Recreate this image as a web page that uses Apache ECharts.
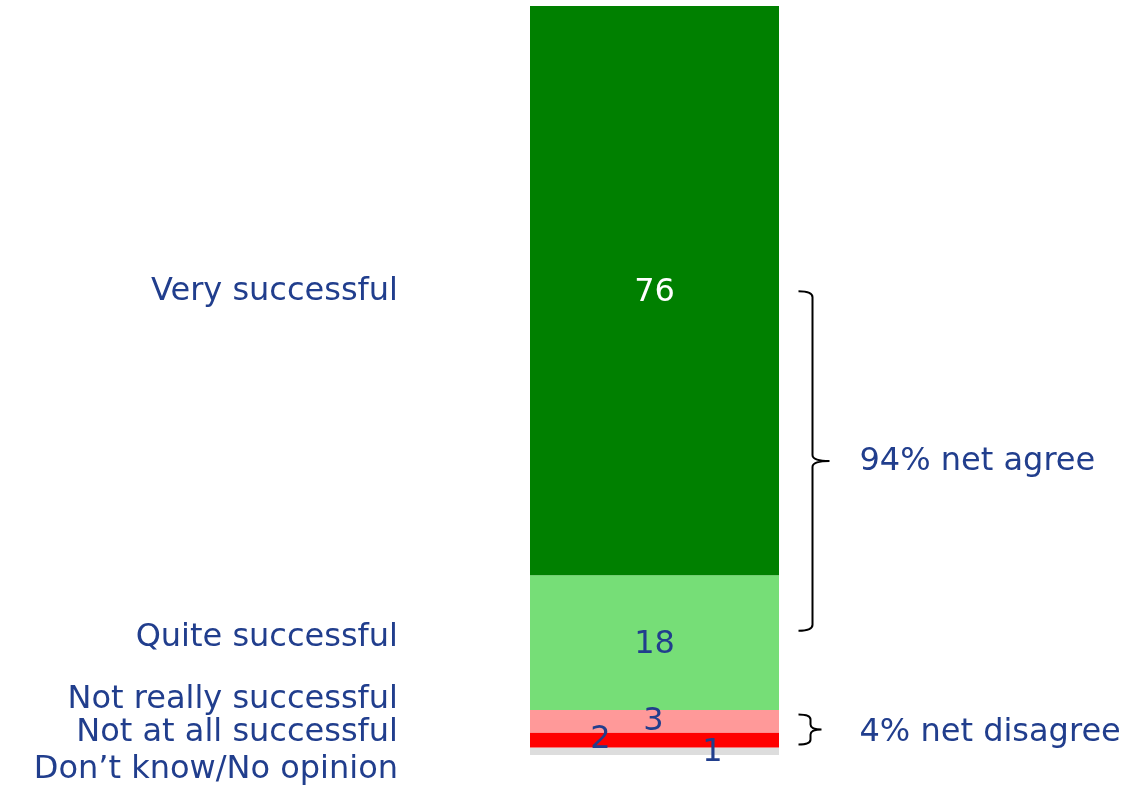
<!DOCTYPE html>
<html>
<head>
<meta charset="utf-8">
<script src="https://cdn.jsdelivr.net/npm/echarts@6/dist/echarts.min.js"></script>
<style>
  html, body { margin: 0; padding: 0; background: #fff; }
  #chart { width: 1121px; height: 789px; }
</style>
</head>
<body>
<div id="chart"></div>
<script>
// answers, top of the bar first
const categories = ['Very successful', 'Quite successful', 'Not really successful', 'Not at all successful', 'Don’t know/No opinion'];
const values = [76, 18, 3, 2, 1];
const valueLabels = ['76', '18', '3', '2', '1'];
// brackets on the right: [from value, to value] on the 0-100 axis, and their text
const bracketRanges = [[61.9, 16.6], [5.4, 1.4]];
const bracketTexts = ['94% net agree', '4% net disagree'];

const colors = ['#008000', '#76DE77', '#FF9999', '#FF0000', '#DDDDDD'];
const valueColors = ['#ffffff', '#213E8D', '#213E8D', '#213E8D', '#213E8D'];
const valueOffsets = [[0, 2], [0, 2], [-1, 0], [-54, 0], [58, 1]];
const nameOffsets = [1, -5, -22, -7, 18];
const BLUE = '#213E8D';
const FONT = 'DejaVu Sans';
const SIZE = 32;

const chart = echarts.init(document.getElementById('chart'));

const series = [];
// stack from the bottom up
for (let i = values.length - 1; i >= 0; i--) {
  series.push({
    type: 'bar',
    name: categories[i],
    stack: 'vals',
    barWidth: 249,
    barGap: '-100%',
    silent: true,
    data: [values[i]],
    itemStyle: { color: colors[i] },
    label: {
      show: true,
      position: 'inside',
      formatter: valueLabels[i],
      color: valueColors[i],
      fontFamily: FONT,
      fontSize: SIZE,
      offset: valueOffsets[i],
    },
  });
}
// transparent copy, only carries the names on the left
for (let i = values.length - 1; i >= 0; i--) {
  series.push({
    type: 'bar',
    name: categories[i] + ' label',
    stack: 'names',
    barWidth: 249,
    barGap: '-100%',
    silent: true,
    data: [values[i]],
    itemStyle: { color: 'transparent' },
    label: {
      show: true,
      position: 'left',
      distance: 132,
      formatter: categories[i],
      color: BLUE,
      fontFamily: FONT,
      fontSize: SIZE,
      offset: [0, nameOffsets[i]],
    },
  });
}

series.push({
  type: 'custom',
  silent: true,
  data: bracketRanges.map((r, i) => [0, r[0], r[1], i]),
  renderItem(params, api) {
    const top = api.coord([0, api.value(1)]);
    const bot = api.coord([0, api.value(2)]);
    const idx = api.value(3);
    const big = idx === 0;
    const hookX = top[0] + 144;
    const stemX = top[0] + (big ? 158 : 156);
    const tipX = top[0] + (big ? 175 : 167);
    const y0 = top[1];
    const y1 = bot[1];
    const mid = (y0 + y1) / 2;
    const r = big ? 6 : 5;
    const d = [
      'M', hookX, y0,
      'Q', stemX, y0, stemX, y0 + r,
      'L', stemX, mid - r,
      'Q', stemX, mid, tipX, mid,
      'Q', stemX, mid, stemX, mid + r,
      'L', stemX, y1 - r,
      'Q', stemX, y1, hookX, y1,
    ].join(' ');
    return {
      type: 'group',
      children: [
        {
          type: 'path',
          shape: { pathData: d },
          style: { fill: null, stroke: '#000', lineWidth: 2 },
        },
        {
          type: 'text',
          x: top[0] + 205,
          y: mid + (big ? 1 : 3),
          style: {
            text: bracketTexts[idx],
            fill: BLUE,
            font: SIZE + 'px "' + FONT + '"',
            verticalAlign: 'middle',
            align: 'left',
          },
        },
      ],
    };
  },
});

chart.setOption({
  animation: false,
  grid: { left: 530, right: 342, top: 6, bottom: 34 },
  xAxis: {
    type: 'category',
    data: ['all'],
    show: false,
  },
  yAxis: {
    type: 'value',
    min: 0,
    max: 100,
    show: false,
  },
  series,
});
</script>
</body>
</html>
